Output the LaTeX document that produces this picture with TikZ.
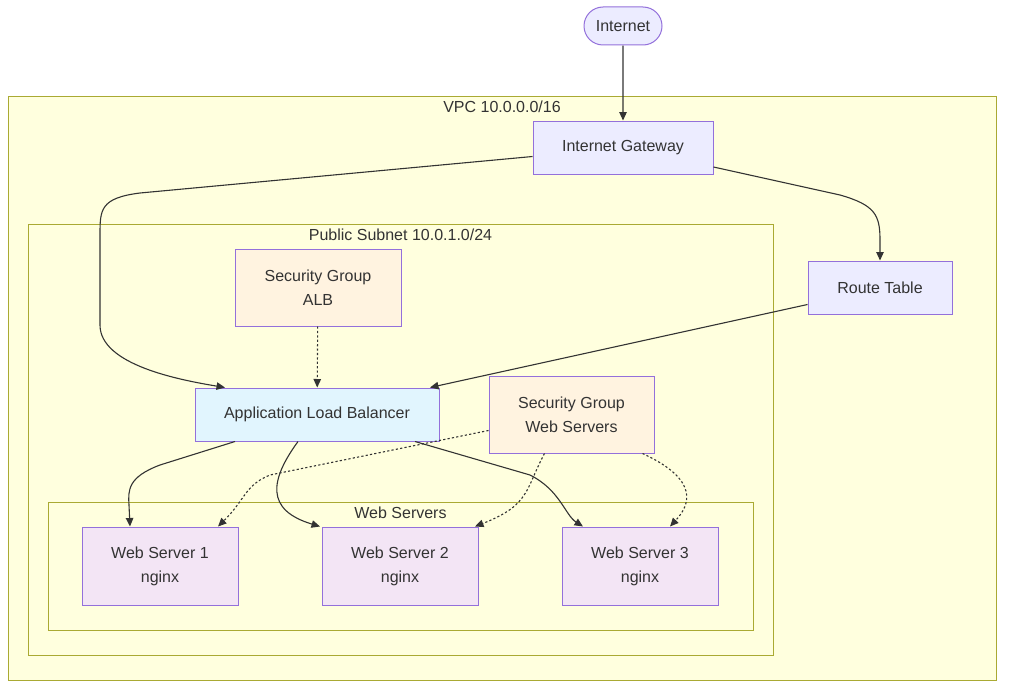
\documentclass[tikz,border=0pt]{standalone}
\usepackage{fontspec}
\setmainfont{Liberation Sans}
\usetikzlibrary{shapes,arrows.meta,positioning,fit}

\definecolor{nodefill}{HTML}{ECECFF}
\definecolor{nodeline}{HTML}{9370DB}
\definecolor{clusterfill}{HTML}{FFFFDE}
\definecolor{clusterline}{HTML}{AAAA33}
\definecolor{sgfill}{HTML}{FFF3E0}
\definecolor{albfill}{HTML}{E1F5FE}
\definecolor{webfill}{HTML}{F3E5F5}
\definecolor{edgeline}{HTML}{333333}

\begin{document}
\begin{tikzpicture}[
        x=1pt, y=-1pt,
        every node/.style = {font=\fontsize{16}{24}\selectfont, text=edgeline, align=center},
        box/.style = {rectangle, draw=nodeline, line width=1pt, inner sep=0pt},
        cluster/.style = {rectangle, draw=clusterline, fill=clusterfill, line width=1pt, inner sep=0pt},
        flow/.style = {draw=edgeline, line width=1.1pt, -{Triangle[length=8.5pt,width=7.5pt]}},
        rule/.style = {flow, dash pattern=on 2.2pt off 2.2pt}
    ]
    \useasboundingbox (0,0) rectangle (1012,693);

    % boxes
    \node[cluster, minimum width=988, minimum height=584] (vpc) at (502,388) {};
    \node[anchor=north] (vpclabel) at ([yshift=-2]vpc.north) {VPC 10.0.0.0/16};
    \node[cluster, minimum width=745, minimum height=431] (subnet) at (400.5,439.5) {};
    \node[anchor=north] (subnetlabel) at ([yshift=-2]subnet.north) {Public Subnet 10.0.1.0/24};
    \node[cluster, minimum width=705, minimum height=128] (webbox) at (400.5,566) {};
    \node[anchor=north] (weblabel) at ([yshift=-2]webbox.north) {Web Servers};

    %nodes
    \node [rounded rectangle, draw=nodeline, fill=nodefill, line width=1pt, minimum width=78, minimum height=38, inner sep=0pt] (inet) at (623,26) {Internet};
    \node [box, fill=nodefill, minimum width=180, minimum height=53] (igw) at (623,147.5) {Internet Gateway};
    \node [box, fill=nodefill, minimum width=144, minimum height=53] (rt) at (880,287.5) {Route Table};
    \node [box, fill=sgfill, minimum width=166, minimum height=77] (sgalb) at (318,287.5) {Security Group\\ALB};
    \node [box, fill=albfill, minimum width=244, minimum height=53] (alb) at (317,414.5) {Application Load Balancer};
    \node [box, fill=sgfill, minimum width=165, minimum height=77] (sgweb) at (571.5,414.5) {Security Group\\Web Servers};
    \node [box, fill=webfill, minimum width=156, minimum height=78] (web1) at (160,566) {Web Server 1\\nginx};
    \node [box, fill=webfill, minimum width=156, minimum height=78] (web2) at (400,566) {Web Server 2\\nginx};
    \node [box, fill=webfill, minimum width=156, minimum height=78] (web3) at (640,566) {Web Server 3\\nginx};

    % edges
    \draw[flow] (inet) -- (igw);
    \draw[flow] ([yshift=-9]igw.west) -- (140,193) .. controls (100,198) and (100,210) .. (100,235) -- (100,325) .. controls (100,365) and (180,380) .. ([xshift=-92]alb.north);
    \draw[flow] ([yshift=-19.5]igw.east) -- (840,195) .. controls (875,205) and (880,215) .. (880,240) -- (rt.north);
    \draw[flow] ([yshift=-17]rt.west) -- ([xshift=113]alb.north);
    \draw[rule] (sgalb) -- (alb);
    \draw[flow] ([xshift=-82]alb.south) -- (160,465) .. controls (128,477) and (128,490) .. (129,505) -- ([xshift=-30]web1.north);
    \draw[flow] ([xshift=-19]alb.south) .. controls (270,480) and (265,510) .. ([xshift=-80]web2.north);
    \draw[flow] ([xshift=98]alb.south) -- (530,475) .. controls (560,490) and (565,515) .. ([xshift=-57]web3.north);
    \draw[rule] ([yshift=-16]sgweb.west) -- (270,475) .. controls (245,485) and (245,500) .. ([xshift=58]web1.north);
    \draw[rule] ([xshift=-27]sgweb.south) .. controls (525,490) and (530,505) .. ([xshift=75]web2.north);
    \draw[rule] ([xshift=71]sgweb.south) .. controls (700,480) and (690,505) .. ([xshift=30]web3.north);

\end{tikzpicture}
\end{document}
